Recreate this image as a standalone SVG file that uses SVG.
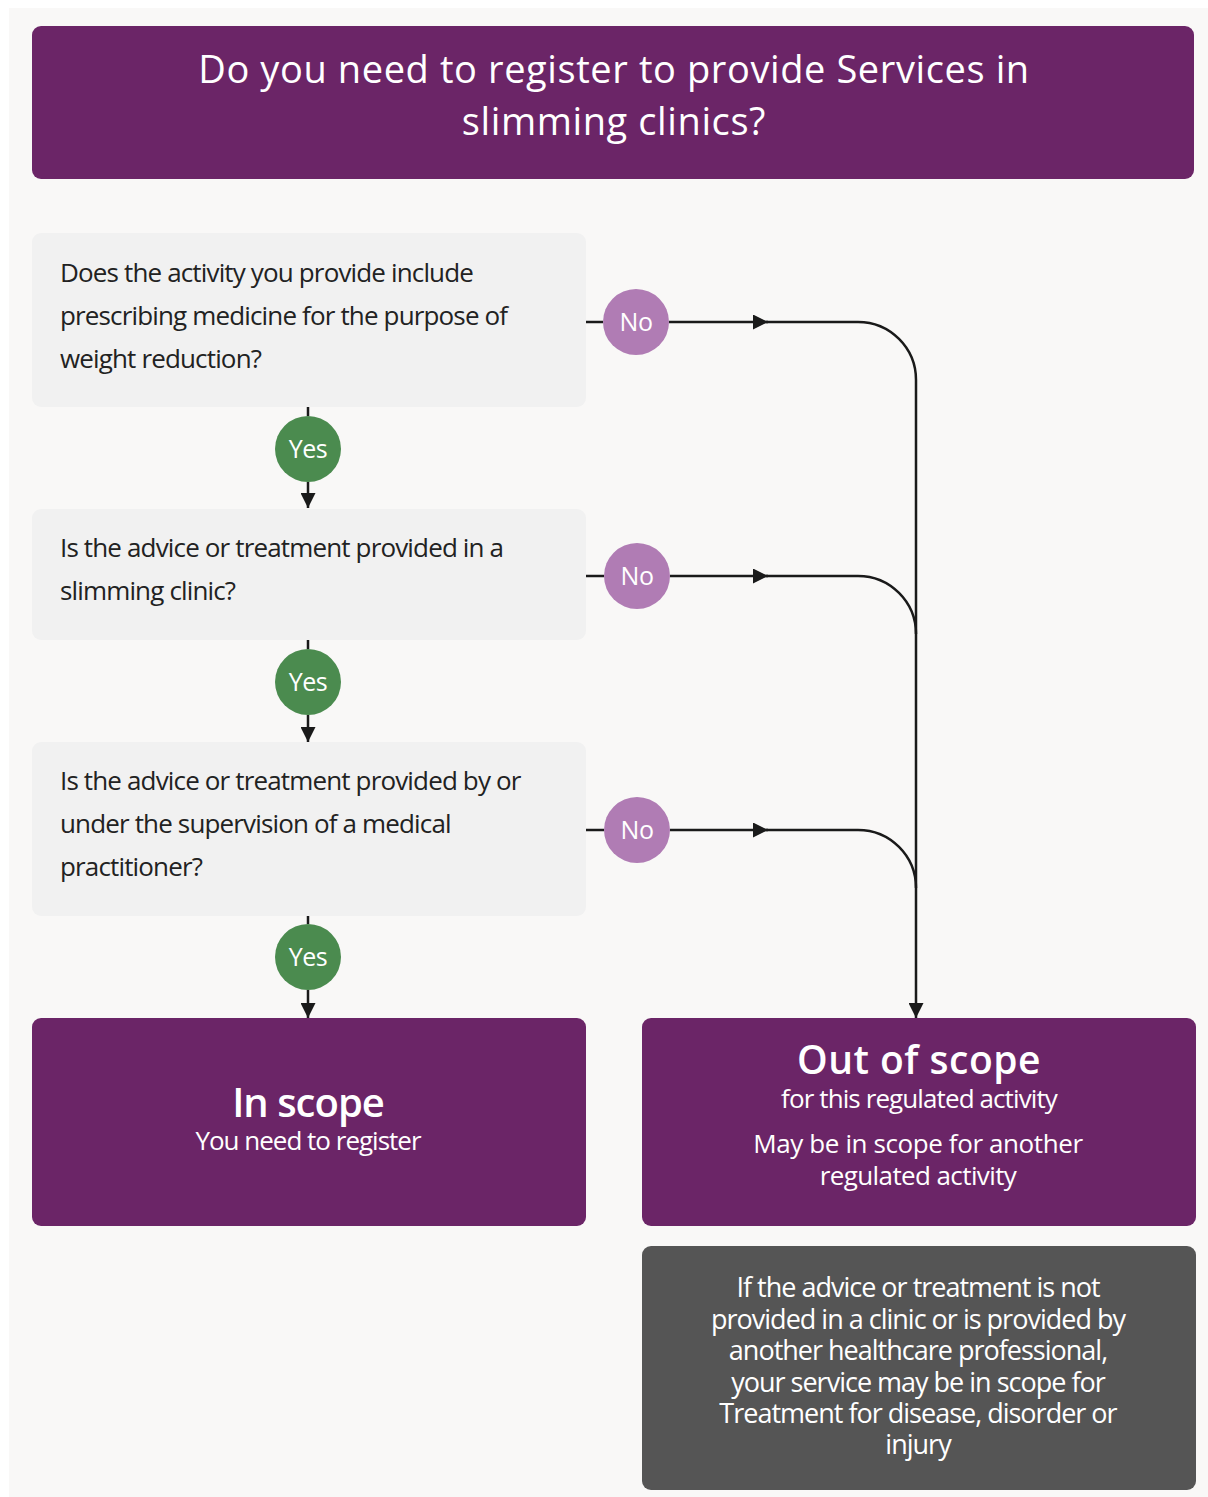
<svg xmlns="http://www.w3.org/2000/svg" width="1208" height="1497" viewBox="0 0 1208 1497">
<style>
.bg{fill:#f9f8f7}
.purple{fill:#6b2567}
.q{fill:#f1f1f1}
.grey{fill:#555555}
.no{fill:#b07cb4}
.yes{fill:#4b8b4f}
.qt{font-family:"Open Sans","Noto Sans",sans-serif;font-size:26px;fill:#222;letter-spacing:-0.85px}
.wt{font-family:"Open Sans","Noto Sans",sans-serif;fill:#fff;text-anchor:middle}
.lbl{font-family:"Open Sans","Noto Sans",sans-serif;font-size:25px;fill:#fff;text-anchor:middle;letter-spacing:-0.5px}
.ln{fill:none;stroke:#1a1a1a;stroke-width:2.5}
.note{font-size:27px;font-weight:500;letter-spacing:-1px}
</style>
<defs>
<marker id="ah" viewBox="0 0 10 10" refX="10" refY="5" markerWidth="6" markerHeight="6" markerUnits="strokeWidth" orient="auto">
<path d="M0,0 L10,5 L0,10 Z" fill="#1a1a1a"/>
</marker>
</defs>
<rect x="0" y="0" width="1208" height="1497" fill="#ffffff"/>
<rect class="bg" x="9" y="8" width="1199" height="1489"/>

<g id="header">
<rect class="purple" x="32" y="26" width="1162" height="153" rx="9"/>
<text class="wt" x="614" y="83" font-size="38" letter-spacing="0.6">Do you need to register to provide Services in</text>
<text class="wt" x="614" y="135" font-size="38" letter-spacing="0.6">slimming clinics?</text>
</g>

<g id="connectors">
<path class="ln" d="M586,322 H603"/>
<path class="ln" d="M669,322 H768" marker-end="url(#ah)"/>
<path class="ln" d="M766,322 H858 A58,58 0 0 1 916,380 V1018" marker-end="url(#ah)"/>
<path class="ln" d="M586,576 H604"/>
<path class="ln" d="M670,576 H768" marker-end="url(#ah)"/>
<path class="ln" d="M766,576 H858 A58,58 0 0 1 916,634"/>
<path class="ln" d="M586,830 H604"/>
<path class="ln" d="M670,830 H768" marker-end="url(#ah)"/>
<path class="ln" d="M766,830 H858 A58,58 0 0 1 916,888"/>
<path class="ln" d="M308,407 V416"/>
<path class="ln" d="M308,482 V508" marker-end="url(#ah)"/>
<path class="ln" d="M308,640 V649"/>
<path class="ln" d="M308,715 V742" marker-end="url(#ah)"/>
<path class="ln" d="M308,916 V924"/>
<path class="ln" d="M308,990 V1018" marker-end="url(#ah)"/>
</g>

<g id="q1">
<rect class="q" x="32" y="233" width="554" height="174" rx="9"/>
<text class="qt" x="60" y="282">Does the activity you provide include</text>
<text class="qt" x="60" y="325">prescribing medicine for the purpose of</text>
<text class="qt" x="60" y="368">weight reduction?</text>
</g>
<g id="q2">
<rect class="q" x="32" y="509" width="554" height="131" rx="9"/>
<text class="qt" x="60" y="557">Is the advice or treatment provided in a</text>
<text class="qt" x="60" y="600">slimming clinic?</text>
</g>
<g id="q3">
<rect class="q" x="32" y="742" width="554" height="174" rx="9"/>
<text class="qt" x="60" y="790">Is the advice or treatment provided by or</text>
<text class="qt" x="60" y="833">under the supervision of a medical</text>
<text class="qt" x="60" y="876">practitioner?</text>
</g>

<g id="no1"><circle class="no" cx="636" cy="322" r="33"/><text class="lbl" x="636" y="331">No</text></g>
<g id="no2"><circle class="no" cx="637" cy="576" r="33"/><text class="lbl" x="637" y="585">No</text></g>
<g id="no3"><circle class="no" cx="637" cy="830" r="33"/><text class="lbl" x="637" y="839">No</text></g>
<g id="yes1"><circle class="yes" cx="308" cy="449" r="33"/><text class="lbl" x="308" y="458">Yes</text></g>
<g id="yes2"><circle class="yes" cx="308" cy="682" r="33"/><text class="lbl" x="308" y="691">Yes</text></g>
<g id="yes3"><circle class="yes" cx="308" cy="957" r="33"/><text class="lbl" x="308" y="966">Yes</text></g>

<g id="in-scope">
<rect class="purple" x="32" y="1018" width="554" height="208" rx="9"/>
<text class="wt" x="308" y="1117" font-size="40" font-weight="600" letter-spacing="-1">In scope</text>
<text class="wt" x="308" y="1150" font-size="26" letter-spacing="-1">You need to register</text>
</g>

<g id="out-scope">
<rect class="purple" x="642" y="1018" width="554" height="208" rx="9"/>
<text class="wt" x="919" y="1074" font-size="39" font-weight="600" letter-spacing="0.5">Out of scope</text>
<text class="wt" x="919" y="1108" font-size="26" letter-spacing="-0.9">for this regulated activity</text>
<text class="wt" x="918" y="1153" font-size="26" letter-spacing="-0.4">May be in scope for another</text>
<text class="wt" x="918" y="1185" font-size="26" letter-spacing="-0.6">regulated activity</text>
</g>

<g id="note">
<rect class="grey" x="642" y="1246" width="554" height="244" rx="9"/>
<text class="wt note" x="918" y="1297">If the advice or treatment is not</text>
<text class="wt note" x="918" y="1329">provided in a clinic or is provided by</text>
<text class="wt note" x="918" y="1360">another healthcare professional,</text>
<text class="wt note" x="918" y="1392">your service may be in scope for</text>
<text class="wt note" x="918" y="1423">Treatment for disease, disorder or</text>
<text class="wt note" x="918" y="1454">injury</text>
</g>
</svg>
